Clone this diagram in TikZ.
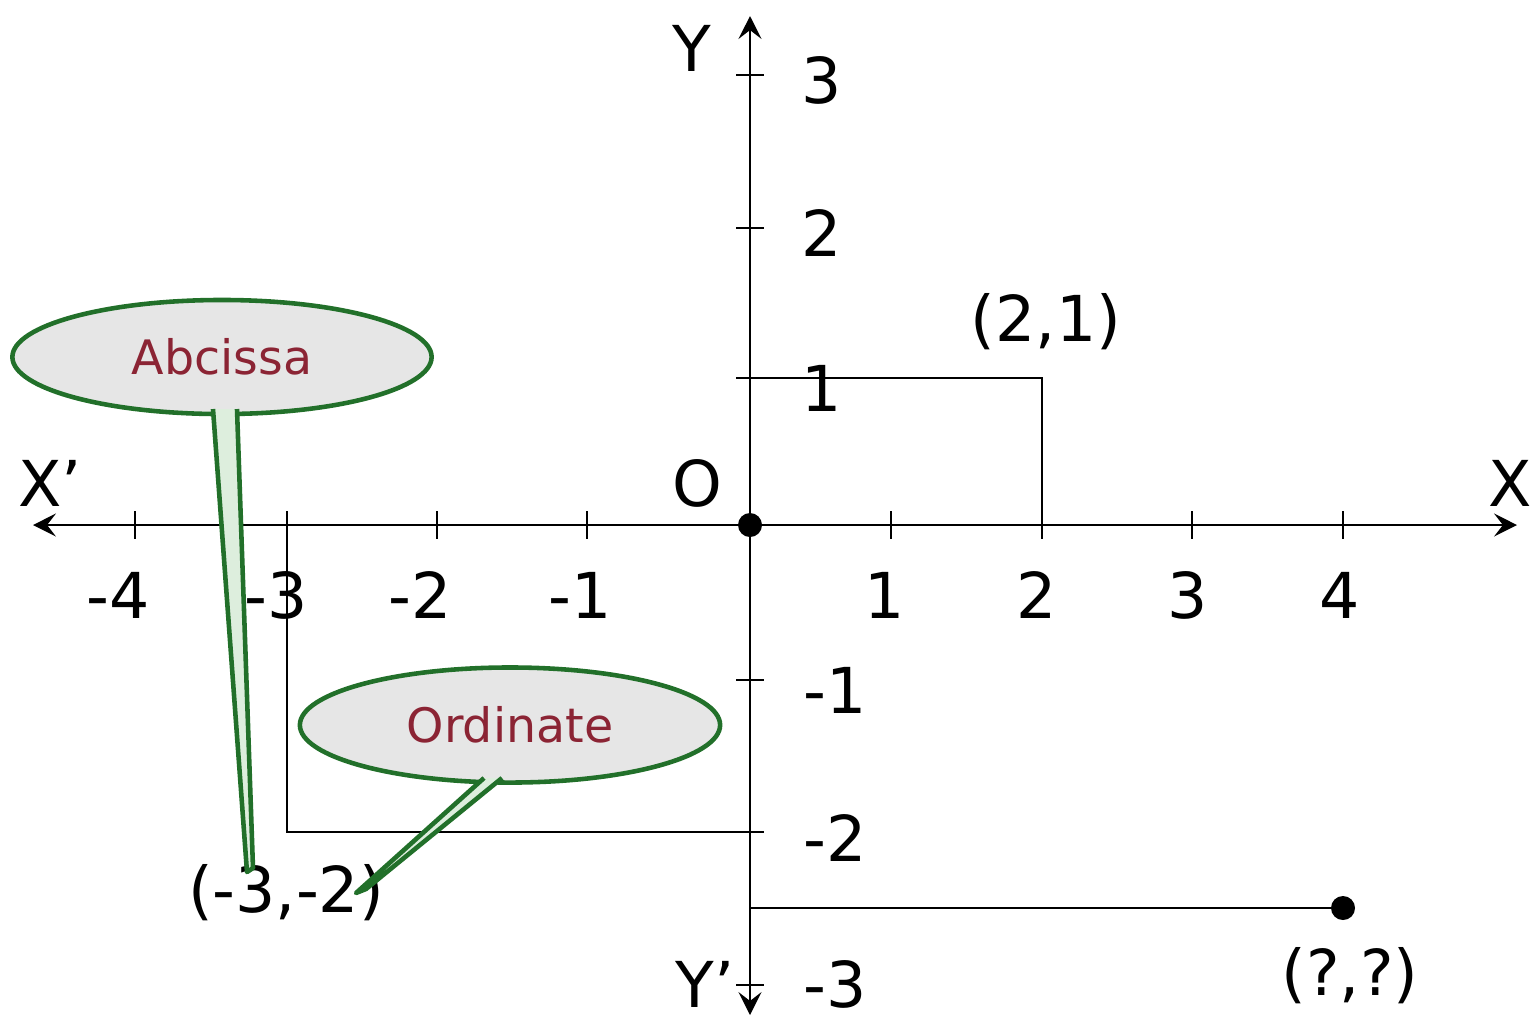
\documentclass[tikz,border=0pt]{standalone}
\usepackage{fontspec}
\setmainfont{DejaVu Sans}
\usetikzlibrary{arrows.meta,shapes.geometric}
\definecolor{cgreen}{HTML}{22702A}
\definecolor{cfill}{HTML}{E6E6E6}
\definecolor{ptrfill}{HTML}{DDEEDD}
\definecolor{cred}{HTML}{8B2434}
\begin{document}
\begin{tikzpicture}[x={(0.01cm,0)},y={(0,-0.01cm)},
  axis/.style={line width=0.75pt,black},
  tickl/.style={line width=0.7pt,black},
  guide/.style={line width=0.6pt,black},
  lab/.style={font=\fontsize{18}{20}\selectfont,inner sep=0pt},
  callout/.style={ellipse,draw=cgreen,fill=cfill,line width=1.3pt,inner sep=0pt,
    text=cred,font=\fontsize{13.5}{15}\selectfont},
  ptr/.style={fill=ptrfill},
  ptrline/.style={draw=cgreen,line width=1.3pt,line join=round},
  tip/.style={-{Stealth[length=6.5pt,width=6.5pt,inset=2.5pt]}}]
\useasboundingbox (0,0) rectangle (1533,1020);
% origin and axis ends
\coordinate (O) at (750,525);
\coordinate (xl) at (33,525);
\coordinate (xr) at (1517,525);
\coordinate (yt) at (750,16);
\coordinate (yb) at (750,1015);
\draw[axis,tip] (O) -- (xr);
\draw[axis,tip] (O) -- (xl);
\draw[axis,tip] (O) -- (yt);
\draw[axis,tip] (O) -- (yb);
% x ticks
\foreach \px/\lx/\t in {135/118/-4,287/276/-3,437/420/-2,587/580/-1,891/885/1,1042/1037/2,1192/1188/3,1343/1340/4}{
  \coordinate (xt\t) at (\px,525);
  \draw[tickl] (\px,511) -- (\px,539);
  \node[lab] (xlab\t) at (\lx,595) {\t};
}
% y ticks
\foreach \py/\lx/\ly/\t in {75/822/80/3,228/822/233/2,378/822/388/1,680/835/690/-1,832/835/838/-2,985/835/984/-3}{
  \draw[tickl] (736,\py) -- (764,\py);
  \node[lab] (ylab\t) at (\lx,\ly) {\t};
}
% axis letters
\node[lab] (Ylab) at (692,48) {Y};
\node[lab] (Yplab) at (705,984) {Y’};
\node[lab] (Xplab) at (50,483) {X’};
\node[lab] (Xlab) at (1510,483) {X};
\node[lab] (Olab) at (697,483) {O};
\fill (O) circle (12);
% point (2,1)
\coordinate (p1a) at (750,378);
\coordinate (p1) at (1042,378);
\coordinate (p1b) at (1042,525);
\draw[guide] (p1a) -- (p1) -- (p1b);
\node[lab] (l21) at (1046,322) {(2,1)};
% point (-3,-2)
\coordinate (p2a) at (287,525);
\coordinate (p2) at (287,832);
\coordinate (p2b) at (750,832);
\draw[guide] (p2a) -- (p2) -- (p2b);
\node[lab] (l32) at (286,893) {(-3,-2)};
% point (?,?)
\coordinate (p3a) at (750,908);
\coordinate (p3) at (1343,908);
\draw[guide] (p3a) -- (p3);
\fill (p3) circle (12);
\node[lab] (lqq) at (1350,976) {(?,?)};
% callouts
\node[callout,minimum width=4.19cm,minimum height=1.14cm] (abc) at (222,357) {Abcissa};
\node[callout,minimum width=4.2cm,minimum height=1.15cm] (ord) at (510,725) {Ordinate};
\coordinate (abcL) at (213,409);
\coordinate (abcR) at (237,409);
\coordinate (abcT1) at (247,872);
\coordinate (abcT2) at (253,868);
\fill[ptr] (abcL) -- (abcT1) -- (abcT2) -- (abcR) -- cycle;
\draw[ptrline] (abcL) -- (abcT1) -- (abcT2) -- (abcR);
\coordinate (ordL) at (484,778);
\coordinate (ordR) at (502,778);
\coordinate (ordT1) at (356,893);
\coordinate (ordT2) at (366,889);
\fill[ptr] (ordL) -- (ordT1) -- (ordT2) -- (ordR) -- cycle;
\draw[ptrline] (ordL) -- (ordT1) -- (ordT2) -- (ordR);
\end{tikzpicture}
\end{document}
